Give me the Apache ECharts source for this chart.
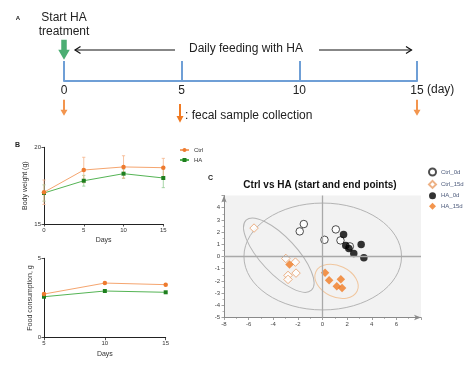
<!DOCTYPE html>
<html><head><meta charset="utf-8">
<script src="https://cdn.jsdelivr.net/npm/echarts@6/dist/echarts.min.js"></script>
<style>html,body{margin:0;padding:0;background:#fff}#c{width:474px;height:366px}</style>
</head><body><div id="c"></div>
<script>
// ---------------- data ----------------
const timelineDays = [0, 5, 10, 15];
const sampleDays = [0, 15];
const treatmentStartDay = [0];

const weightDays = [0, 5, 10, 15];
const ctrlWeight = [17.07, 18.52, 18.72, 18.67];
const ctrlWeightErr = [0.80, 0.83, 0.73, 0.61];
const haWeight = [17.02, 17.82, 18.28, 18.00];
const haWeightErr = [0.53, 0.35, 0.30, 0.63];

const foodDays = [5, 10, 15];
const ctrlFood = [2.75, 3.44, 3.34];
const haFood = [2.58, 2.94, 2.86];

const ctrl0d = [[-1.52, 2.66], [-1.85, 2.06], [0.16, 1.37], [1.08, 2.22], [1.46, 1.32], [2.22, 0.83]];
const ctrl15d = [[-5.56, 2.33], [-2.98, -0.16], [-2.20, -0.46], [-2.15, -1.36], [-2.80, -1.55], [-2.80, -1.88]];
const ha0d = [[1.71, 1.81], [1.89, 0.91], [2.14, 0.66], [2.54, 0.25], [3.14, 0.99], [3.36, -0.11]];
const ha15d = [[-2.68, -0.65], [0.21, -1.34], [0.54, -1.94], [1.49, -1.86], [1.16, -2.43], [1.59, -2.59]];
// confidence ellipses: [centerX, centerY, semiAxisX, semiAxisY, angleDeg]
const allEllipse = [0.02, 0.0, 6.40, 4.38, 0];
const ctrl15dEllipse = [-3.55, 0.11, 3.89, 1.48, -47];
const ha15dEllipse = [1.14, -2.04, 1.85, 1.28, -25];

// ---------------- styles ----------------
const FONT = 'Liberation Sans, Arial, sans-serif';
const BLUE = '#6f9fd6';
const ORANGE = '#f07a22';
const ARROW_Y = -0.65;   // vertical position of the sampling arrows (panel A, axis units)
const START_Y = 0.76;    // vertical position of the start arrow

const chart = echarts.init(document.getElementById('c'), null, { renderer: 'canvas' });

function errItem(params, api) {
  const x = api.value(0), y = api.value(1), e = api.value(2);
  const hi = api.coord([x, y + e]), lo = api.coord([x, y - e]);
  const w = 1.6;
  const st = { stroke: api.visual('color'), lineWidth: 0.8 };
  return { type: 'group', children: [
    { type: 'line', shape: { x1: hi[0], y1: hi[1], x2: lo[0], y2: lo[1] }, style: st },
    { type: 'line', shape: { x1: hi[0] - w, y1: hi[1], x2: hi[0] + w, y2: hi[1] }, style: st },
    { type: 'line', shape: { x1: lo[0] - w, y1: lo[1], x2: lo[0] + w, y2: lo[1] }, style: st }
  ] };
}
function ellipseItem(params, api) {
  const c = api.coord([api.value(0), api.value(1)]);
  const s = api.size([1, 1]);
  return { type: 'ellipse', x: c[0], y: c[1], rotation: api.value(4) * Math.PI / 180,
    shape: { cx: 0, cy: 0, rx: api.value(2) * s[0], ry: api.value(3) * s[1] },
    style: { fill: 'none', stroke: api.visual('color'), lineWidth: 1 } };
}

const smallAxis = (extra) => Object.assign({
  axisLine: { show: true, onZero: false, lineStyle: { color: '#222', width: 1 } },
  axisTick: { show: true, length: 2.5, lineStyle: { color: '#222', width: 0.8 } },
  axisLabel: { fontSize: 6, color: '#333', margin: 3, fontFamily: FONT },
  splitLine: { show: false },
  nameTextStyle: { fontSize: 7, color: '#333', fontFamily: FONT }
}, extra);

const pcaAxisCommon = {
  axisLine: { show: true, onZero: false, symbol: ['none', 'arrow'], symbolSize: [4, 7], lineStyle: { color: '#8a8a8a', width: 1 } },
  axisTick: { show: true, length: 2.5, lineStyle: { color: '#8a8a8a', width: 0.8 } },
  minorTick: { show: true, splitNumber: 2, length: 1.5, lineStyle: { color: '#8a8a8a', width: 0.6 } },
  axisLabel: { fontSize: 6, color: '#444', margin: 4, showMaxLabel: false, fontFamily: FONT },
  splitLine: { show: false }
};

const sampleArrow = 'path://M2,0 L4,0 L4,10 L6.5,10 L3,16 L-0.5,10 L2,10 Z';
const startArrow = 'path://M3,0 L8.5,0 L8.5,10 L11.5,10 L5.75,20 L0,10 L3,10 Z';

const option = {
  animation: false,
  backgroundColor: '#fff',
  textStyle: { fontFamily: FONT },
  grid: [
    { left: 64, top: 40, width: 353, height: 41 },
    { left: 44, top: 147.3, width: 119.3, height: 76.7 },
    { left: 44, top: 258.3, width: 121.7, height: 79.4 },
    { left: 224, top: 195.5, width: 197, height: 122, show: true, backgroundColor: '#f2f2f2', borderWidth: 0 }
  ],
  xAxis: [
    { gridIndex: 0, type: 'value', min: 0, max: 15, interval: 5,
      axisLine: { onZero: false, lineStyle: { color: BLUE, width: 2 } },
      axisTick: { inside: true, length: 20, lineStyle: { color: BLUE, width: 2 } },
      axisLabel: { margin: 4, fontSize: 12, color: '#222', fontFamily: FONT },
      splitLine: { show: false } },
    smallAxis({ gridIndex: 1, type: 'value', min: 0, max: 15, interval: 5, name: 'Days', nameLocation: 'middle', nameGap: 13 }),
    smallAxis({ gridIndex: 2, type: 'value', min: 5, max: 15, interval: 5, name: 'Days', nameLocation: 'middle', nameGap: 13 }),
    Object.assign({ gridIndex: 3, type: 'value', min: -8, max: 8, interval: 2 }, pcaAxisCommon)
  ],
  yAxis: [
    { gridIndex: 0, type: 'value', min: 0, max: 1, show: false },
    smallAxis({ gridIndex: 1, type: 'value', min: 15, max: 20, interval: 5, name: 'Body weight (g)', nameLocation: 'middle', nameGap: 15, nameRotate: 90 }),
    smallAxis({ gridIndex: 2, type: 'value', min: 0, max: 5, interval: 5, name: 'Food consumption, g', nameLocation: 'middle', nameGap: 10, nameRotate: 90 }),
    Object.assign({ gridIndex: 3, type: 'value', min: -5, max: 5, interval: 1 }, pcaAxisCommon)
  ],
  legend: [
    { data: ['Ctrl', 'HA'], orient: 'vertical', left: 179, top: 147, padding: 0, itemWidth: 9, itemHeight: 5, itemGap: 4,
      textStyle: { fontSize: 6, color: '#333', fontFamily: FONT }, selectedMode: false },
    { data: ['Ctrl_0d', 'Ctrl_15d', 'HA_0d', 'HA_15d'], orient: 'vertical', left: 428, top: 167.5, padding: 0,
      itemWidth: 7, itemHeight: 7, itemGap: 3.4, textStyle: { fontSize: 6, color: '#4d5b7c', fontFamily: FONT }, selectedMode: false }
  ],
  series: [
    // ---- panel A ----
    { type: 'scatter', xAxisIndex: 0, yAxisIndex: 0, clip: false, silent: true,
      symbol: sampleArrow, symbolSize: [7, 16], itemStyle: { color: ORANGE },
      data: sampleDays.map(d => [d, ARROW_Y]) },
    { type: 'scatter', xAxisIndex: 0, yAxisIndex: 0, clip: false, silent: true,
      symbol: startArrow, symbolSize: [11.5, 20], itemStyle: { color: '#1f9a50' },
      data: treatmentStartDay.map(d => [d, START_Y]) },
    // ---- panel B top ----
    { name: 'HA err', type: 'custom', xAxisIndex: 1, yAxisIndex: 1, renderItem: errItem, itemStyle: { color: '#93cc93' },
      encode: { x: 0, y: 1 }, data: weightDays.map((d, i) => [d, haWeight[i], haWeightErr[i]]) },
    { name: 'Ctrl err', type: 'custom', xAxisIndex: 1, yAxisIndex: 1, renderItem: errItem, itemStyle: { color: '#f5b48a' },
      encode: { x: 0, y: 1 }, data: weightDays.map((d, i) => [d, ctrlWeight[i], ctrlWeightErr[i]]) },
    { name: 'HA', type: 'line', xAxisIndex: 1, yAxisIndex: 1, symbol: 'rect', symbolSize: 4, showSymbol: true,
      lineStyle: { color: '#55b455', width: 1 }, itemStyle: { color: '#1e7f1e' },
      data: weightDays.map((d, i) => [d, haWeight[i]]) },
    { name: 'Ctrl', type: 'line', xAxisIndex: 1, yAxisIndex: 1, symbol: 'circle', symbolSize: 4.5, showSymbol: true,
      lineStyle: { color: '#f5a56f', width: 1 }, itemStyle: { color: '#ee7a2e' },
      data: weightDays.map((d, i) => [d, ctrlWeight[i]]) },
    // ---- panel B bottom ----
    { name: 'HA', type: 'line', xAxisIndex: 2, yAxisIndex: 2, symbol: 'rect', symbolSize: 4, showSymbol: true,
      lineStyle: { color: '#55b455', width: 1 }, itemStyle: { color: '#1e7f1e' },
      data: foodDays.map((d, i) => [d, haFood[i]]) },
    { name: 'Ctrl', type: 'line', xAxisIndex: 2, yAxisIndex: 2, symbol: 'circle', symbolSize: 4.5, showSymbol: true,
      lineStyle: { color: '#f5a56f', width: 1 }, itemStyle: { color: '#ee7a2e' },
      data: foodDays.map((d, i) => [d, ctrlFood[i]]) },
    // ---- panel C ----
    { name: 'ellipses', type: 'custom', xAxisIndex: 3, yAxisIndex: 3, renderItem: ellipseItem, silent: true,
      itemStyle: { color: '#b4b4b4' }, encode: { x: 0, y: 1 }, data: [allEllipse, ctrl15dEllipse],
      markLine: { silent: true, symbol: 'none', label: { show: false },
        lineStyle: { color: '#a9a9a9', width: 1.3, type: 'solid' }, data: [{ xAxis: 0 }, { yAxis: 0 }] } },
    { name: 'ha ellipse', type: 'custom', xAxisIndex: 3, yAxisIndex: 3, renderItem: ellipseItem, silent: true,
      itemStyle: { color: '#f0c69e' }, encode: { x: 0, y: 1 }, data: [ha15dEllipse] },
    { name: 'Ctrl_0d', type: 'scatter', xAxisIndex: 3, yAxisIndex: 3, symbol: 'circle', symbolSize: 7.5,
      itemStyle: { color: '#ffffff', borderColor: '#222', borderWidth: 1 }, data: ctrl0d },
    { name: 'Ctrl_15d', type: 'scatter', xAxisIndex: 3, yAxisIndex: 3, symbol: 'diamond', symbolSize: 8.5,
      itemStyle: { color: '#ffffff', borderColor: '#e99d66', borderWidth: 1 }, data: ctrl15d },
    { name: 'HA_0d', type: 'scatter', xAxisIndex: 3, yAxisIndex: 3, symbol: 'circle', symbolSize: 7.5,
      itemStyle: { color: '#000000' }, data: ha0d },
    { name: 'HA_15d', type: 'scatter', xAxisIndex: 3, yAxisIndex: 3, symbol: 'diamond', symbolSize: 8.5,
      itemStyle: { color: ORANGE }, data: ha15d }
  ],
  graphic: [
    { type: 'text', x: 18, y: 18, style: { text: 'A', font: 'bold 6px ' + FONT, fill: '#222', align: 'center', verticalAlign: 'middle' } },
    { type: 'text', x: 64, y: 18, style: { text: 'Start HA', font: '12px ' + FONT, fill: '#222', align: 'center', verticalAlign: 'middle' } },
    { type: 'text', x: 64, y: 32, style: { text: 'treatment', font: '12px ' + FONT, fill: '#222', align: 'center', verticalAlign: 'middle' } },
    { type: 'text', x: 246, y: 49, style: { text: 'Daily feeding with HA', font: '12px ' + FONT, fill: '#222', align: 'center', verticalAlign: 'middle' } },
    { type: 'line', shape: { x1: 75, y1: 50, x2: 175, y2: 50 }, style: { stroke: '#111', lineWidth: 1.2 } },
    { type: 'polyline', shape: { points: [[80.5, 46.5], [75, 50], [80.5, 53.5]] }, style: { stroke: '#111', lineWidth: 1.2, fill: 'none' } },
    { type: 'line', shape: { x1: 319, y1: 50, x2: 411.5, y2: 50 }, style: { stroke: '#111', lineWidth: 1.2 } },
    { type: 'polyline', shape: { points: [[406, 46.5], [411.5, 50], [406, 53.5]] }, style: { stroke: '#111', lineWidth: 1.2, fill: 'none' } },
    { type: 'text', x: 427, y: 90, style: { text: '(day)', font: '12px ' + FONT, fill: '#222', align: 'left', verticalAlign: 'middle' } },
    { type: 'polygon', shape: { points: [[179, 104], [181, 104], [181, 116], [183.5, 116], [180, 122.7], [176.5, 116], [179, 116]] }, style: { fill: ORANGE } },
    { type: 'text', x: 185, y: 115.5, style: { text: ': fecal sample collection', font: '12px ' + FONT, fill: '#222', align: 'left', verticalAlign: 'middle' } },
    { type: 'text', x: 17.5, y: 145, style: { text: 'B', font: 'bold 7px ' + FONT, fill: '#222', align: 'center', verticalAlign: 'middle' } },
    { type: 'text', x: 210.5, y: 178.3, style: { text: 'C', font: 'bold 7px ' + FONT, fill: '#222', align: 'center', verticalAlign: 'middle' } },
    { type: 'text', x: 320, y: 185.5, style: { text: 'Ctrl vs HA (start and end points)', font: 'bold 10px ' + FONT, fill: '#111', align: 'center', verticalAlign: 'middle' } }
  ]
};
chart.setOption(option);
</script>
</body></html>
